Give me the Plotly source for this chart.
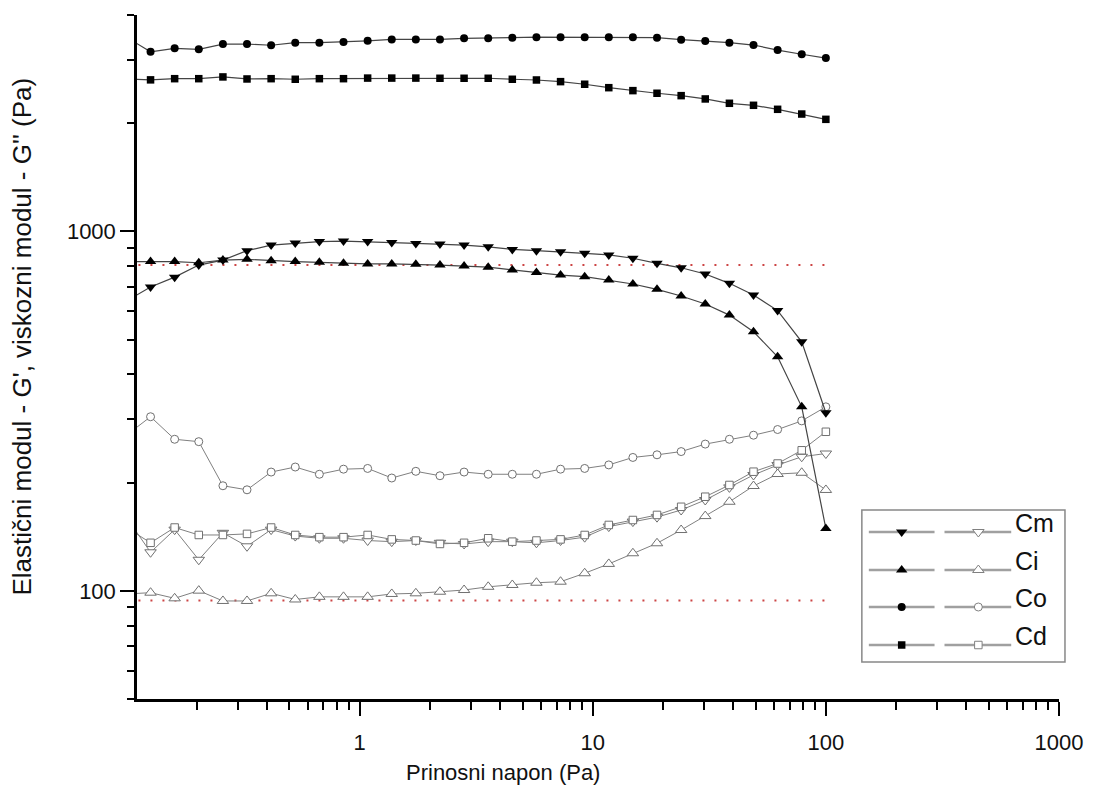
import math
import plotly.graph_objects as go

# ---------------- data ----------------
stress = [0.1, 0.1269, 0.1610, 0.2043, 0.2593, 0.3290, 0.4175, 0.5298, 0.6723, 0.8532,
          1.083, 1.374, 1.743, 2.212, 2.807, 3.562, 4.520, 5.736, 7.279, 9.237,
          11.72, 14.87, 18.87, 23.95, 30.39, 38.57, 48.94, 62.10, 78.80, 100.0]

cm_g1 = [640, 700, 746, 806, 832, 884, 916, 928, 937, 940, 937, 931, 926, 922, 916,
         906, 891, 884, 878, 869, 860, 842, 815, 792, 761, 717, 665, 602, 493, 313]
cm_g2 = [160, 128, 148, 122, 145, 133, 148, 142, 140, 140, 138, 137, 138, 136, 135,
         137, 137, 136, 138, 141, 150.9, 155.8, 160.3, 167.8, 178.9, 194, 210, 223.8, 236, 241]

ci_g1 = [824, 824, 824, 818, 832, 836, 829, 824, 820, 815, 812, 812, 810, 806, 801,
         795, 781, 768, 756, 748, 732, 714, 690, 661, 628, 585, 526, 448, 325, 149]
ci_g2 = [98, 98.8, 95.3, 100.1, 93.7, 93.7, 98.4, 94.6, 96.2, 96.2, 96.2, 98, 98.4, 99.4, 100.5,
         102.6, 103.8, 105.3, 106, 111.9, 118.8, 127.2, 135.6, 147.6, 161.4, 176.9, 195.7, 211.3, 213, 190.8]

co_g1 = [3470, 3160, 3230, 3210, 3320, 3320, 3295, 3350, 3350, 3365, 3390, 3420, 3420, 3420, 3445,
         3445, 3460, 3470, 3470, 3470, 3470, 3470, 3460, 3415, 3385, 3350, 3300, 3195, 3110, 3035]
co_g2 = [271, 305, 264, 260, 196, 191, 214, 221, 211, 218, 219, 206, 215, 209, 214,
         211, 211, 211, 218, 219, 224, 235, 239, 244, 256, 264, 271, 281, 297, 325]

cd_g1 = [2655, 2640, 2660, 2660, 2690, 2655, 2660, 2650, 2660, 2660, 2670, 2670, 2670, 2667, 2667,
         2667, 2650, 2638, 2610, 2567, 2511, 2464, 2423, 2386, 2336, 2272, 2243, 2186, 2121, 2050]
cd_g2 = [150, 136, 150, 143, 143, 144, 150, 143, 141, 141, 143, 139, 138, 135, 136,
         140, 137, 138, 139, 143, 152.5, 157.4, 162.6, 171.3, 182.7, 197, 214.5, 226, 246, 277]

ref_levels = [806, 94]

labels = ["Cm", "Ci", "Co", "Cd"]
x_ticks = [1, 10, 100, 1000]
x_ticktext = ["1", "10", "100", "1000"]
y_ticks = [100, 1000]
y_ticktext = ["100", "1000"]

# ---------------- styling ----------------
FONT = "Liberation Sans, Arial, sans-serif"
W, H = 1095, 790
L, R, T, B = 137, 32, 15, 91
PW, PH = W - L - R, H - T - B

def px_x(p):
    return (p - L) / PW

def px_y(p):
    return (H - B - p) / PH

series = [
    ("Cm", cm_g1, cm_g2, "triangle-down", "triangle-down", 10),
    ("Ci", ci_g1, ci_g2, "triangle-up", "triangle-up", 10),
    ("Co", co_g1, co_g2, "circle", "circle", 8),
    ("Cd", cd_g1, cd_g2, "square", "square", 7.5),
]

fig = go.Figure()

for lv in ref_levels:
    fig.add_trace(go.Scatter(
        x=[stress[0], stress[-1]], y=[lv, lv], mode="lines",
        line=dict(color="#cc4444", width=2, dash="2px,10px"),
        showlegend=False, hoverinfo="skip"))

for name, g1, g2, sym1, sym2, size in series:
    fig.add_trace(go.Scatter(
        x=stress, y=g2, mode="lines+markers", name=name + " G''",
        line=dict(color="#808080", width=1),
        marker=dict(symbol=sym2, size=size, color="white",
                    line=dict(color="#707070", width=1)),
        showlegend=False))

for name, g1, g2, sym1, sym2, size in series:
    fig.add_trace(go.Scatter(
        x=stress, y=g1, mode="lines+markers", name=name + " G'",
        line=dict(color="#444444", width=1.2),
        marker=dict(symbol=sym1, size=size, color="black",
                    line=dict(color="black", width=0)),
        showlegend=False))

# ---------------- legend (drawn in pixel-space overlay axes) ----------------
row_y = [532, 570, 607, 645]
for (name, g1, g2, sym1, sym2, size), ry in zip(series, row_y):
    fig.add_trace(go.Scatter(x=[872, 938], y=[ry, ry], xaxis="x2", yaxis="y2",
                             mode="lines", line=dict(color="#a0a0a0", width=2.5),
                             showlegend=False, hoverinfo="skip"))
    fig.add_trace(go.Scatter(x=[948, 1015], y=[ry, ry], xaxis="x2", yaxis="y2",
                             mode="lines", line=dict(color="#a0a0a0", width=2.5),
                             showlegend=False, hoverinfo="skip"))
    fig.add_trace(go.Scatter(x=[905], y=[ry], xaxis="x2", yaxis="y2", mode="markers",
                             marker=dict(symbol=sym1, size=size, color="black"),
                             showlegend=False, hoverinfo="skip"))
    fig.add_trace(go.Scatter(x=[982], y=[ry], xaxis="x2", yaxis="y2", mode="markers",
                             marker=dict(symbol=sym2, size=size, color="white",
                                         line=dict(color="#808080", width=1)),
                             showlegend=False, hoverinfo="skip"))

annotations = []
for name, ry in zip(labels, row_y):
    annotations.append(dict(x=1017, y=ry - 9, xref="x2", yref="y2", text=name,
                            showarrow=False, xanchor="left", yanchor="middle",
                            font=dict(family=FONT, size=25, color="#111")))

annotations.append(dict(x=px_x(505), y=px_y(772), xref="paper", yref="paper",
                        text="Prinosni napon (Pa)", showarrow=False,
                        xanchor="center", yanchor="middle",
                        font=dict(family=FONT, size=22, color="#111")))
annotations.append(dict(x=px_x(22), y=px_y(336), xref="paper", yref="paper",
                        text="Elastični modul - G', viskozni modul - G'' (Pa)",
                        showarrow=False, textangle=-90,
                        xanchor="center", yanchor="middle",
                        font=dict(family=FONT, size=26, color="#111")))

shapes = [dict(type="rect", xref="paper", yref="paper",
               x0=px_x(865), x1=px_x(1069), y0=px_y(662), y1=px_y(510),
               line=dict(color="#888888", width=1.5), fillcolor="rgba(0,0,0,0)")]

x_minor = [m * 10 ** e for e in (-1, 0, 1, 2) for m in range(2, 10)]
y_minor = [m * 10 ** e for e in (1, 2, 3) for m in range(2, 10) if 50 <= m * 10 ** e <= 4000 and m * 10 ** e not in (100, 1000)]

axis_common = dict(showline=True, linewidth=2.5, linecolor="black", mirror=False,
                   ticks="outside", ticklen=14, tickwidth=2, tickcolor="black",
                   showgrid=False, zeroline=False,
                   tickfont=dict(family=FONT, size=22, color="#111"))

fig.update_layout(
    width=W, height=H,
    margin=dict(l=L, r=R, t=T, b=B, pad=0),
    paper_bgcolor="white", plot_bgcolor="white",
    showlegend=False,
    xaxis=dict(type="log", range=[math.log10(0.111), 3],
               tickmode="array", tickvals=x_ticks, ticktext=x_ticktext,
               ticklabelstandoff=8,
               minor=dict(ticks="outside", ticklen=8, tickwidth=2, tickcolor="black",
                          tickmode="array", tickvals=x_minor, showgrid=False),
               **axis_common),
    yaxis=dict(type="log", range=[math.log10(50), math.log10(4000)],
               tickmode="array", tickvals=y_ticks, ticktext=y_ticktext,
               minor=dict(ticks="outside", ticklen=7, tickwidth=2, tickcolor="black",
                          tickmode="array", tickvals=y_minor, showgrid=False),
               **axis_common),
    xaxis2=dict(overlaying="x", range=[L, W - R], visible=False, fixedrange=True),
    yaxis2=dict(overlaying="y", range=[H - B, T], visible=False, fixedrange=True),
    annotations=annotations,
    shapes=shapes,
)

fig.write_html("out.html")
